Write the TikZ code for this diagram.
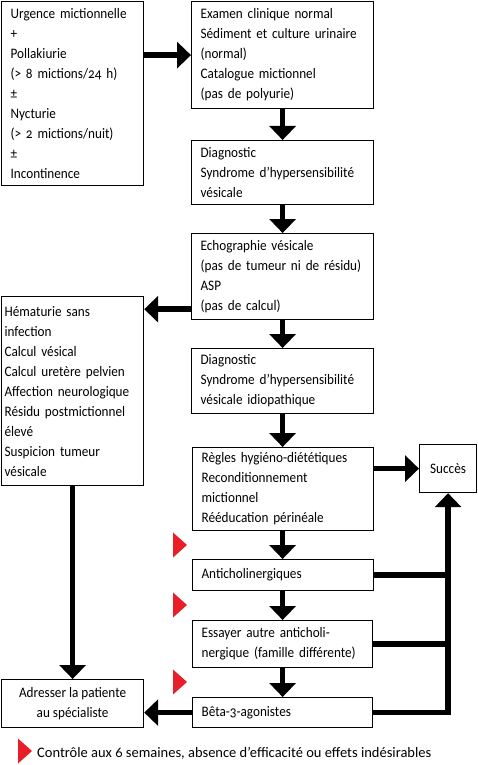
\documentclass[tikz,border=0pt]{standalone}
\usepackage{fontspec}
\setmainfont{Carlito}[Numbers=OldStyle]
\newfontfamily\boxfont{Carlito}[Numbers=OldStyle,FakeStretch=0.91]
\usetikzlibrary{arrows.meta}
\definecolor{redc}{RGB}{232,30,40}
\begin{document}
\begin{tikzpicture}[x=1pt,y=-1pt,
  every node/.style={font=\boxfont\fontsize{14.5}{20}\selectfont},
  box/.style={draw, line width=1.2pt, anchor=north west, inner xsep=9pt, inner ysep=0pt, align=left,
    execute at begin node={\hyphenpenalty=10000\exhyphenpenalty=10000}},
  arr/.style={line width=5.5pt, -{Triangle[length=14pt,width=26pt]}},
  lin/.style={line width=5.5pt},
  redtri/.pic={\fill[redc] (-7,-12.5) -- (7,0) -- (-7,12.5) -- cycle;}
]
\useasboundingbox (0,0) rectangle (477,765);
\node[box, text width=124pt, minimum height=184pt] (A) at (1,1) {Urgence mictionnelle\\+\\Pollakiurie\\(> 8 mictions/24 h)\\±\\Nycturie\\(> 2 mictions/nuit)\\±\\Incontinence};
\node[box, text width=164pt, minimum height=107pt] (B) at (191,1) {Examen clinique normal\\Sédiment et culture urinaire\\(normal)\\Catalogue mictionnel\\(pas de polyurie)};
\node[box, text width=164pt, minimum height=64pt] (C) at (191,140) {Diagnostic\\Syndrome d’hypersensibilité\\vésicale};
\node[box, text width=164pt, minimum height=86pt] (D) at (191,233) {Echographie vésicale\\(pas de tumeur ni de résidu)\\ASP\\(pas de calcul)};
\node[box, inner xsep=3pt, text width=136pt, minimum height=189pt] (E) at (1,296) {Hématurie sans\\infection\\Calcul vésical\\Calcul uretère pelvien\\Affection neurologique\\Résidu postmictionnel\\élevé\\Suspicion tumeur\\vésicale};
\node[box, text width=164pt, minimum height=65pt] (F) at (191,348) {Diagnostic\\Syndrome d’hypersensibilité\\vésicale idiopathique};
\node[box, text width=163pt, minimum height=83pt] (G) at (192,447) {Règles hygiéno-diététiques\\Reconditionnement\\mictionnel\\Rééducation périnéale};
\node[box, align=center, inner xsep=0pt, minimum width=57pt, minimum height=48pt] (S) at (419,444) {Succès};
\node[box, text width=163pt, minimum height=31pt] (H) at (192,559) {Anticholinergiques};
\node[box, text width=162pt, minimum height=47pt] (I) at (192,620) {Essayer autre anticholi-\\nergique (famille différente)};
\node[box, text width=162pt, minimum height=30pt] (J) at (192,697) {Bêta-3-agonistes};
\node[box, align=center, inner xsep=0pt, minimum width=142pt, minimum height=48pt] (K) at (1,679) {Adresser la patiente\\au spécialiste};
% connectors
\draw[arr] (A.east |- B.west) -- (B.west);
\draw[arr] (B.south) -- (C.north);
\draw[arr] (C.south) -- (D.north);
\coordinate (d1) at ([yshift=11pt]D.south west);
\draw[arr] (d1) -- (d1 -| E.east);
\draw[arr] (D.south) -- (F.north);
\draw[arr] (F.south) -- (G.north -| F.south);
\draw[arr] (G.east |- S.west) -- (S.west);
\draw[arr] (G.south -| F.south) -- (H.north -| F.south);
\draw[arr] (H.south -| F.south) -- (I.north -| F.south);
\draw[arr] (I.south -| F.south) -- (J.north -| F.south);
\draw[arr] (J.west) -- (J.west -| K.east);
\draw[arr] (E.south) -- (K.north);
\draw[lin] (H.east) -- (H.east -| S.south);
\draw[lin] (I.east) -- (I.east -| S.south);
\draw[arr] (J.east) -| (S.south);
% red markers
\pic at (180,545) {redtri};
\pic at (180,605) {redtri};
\pic at (180,682) {redtri};
\pic at (25,751) {redtri};
\node[anchor=base west, inner sep=0pt, font=\rmfamily\fontsize{14.5}{20}\selectfont] (L) at (37,757) {Contrôle aux 6 semaines, absence d’efficacité ou effets indésirables};
\end{tikzpicture}
\end{document}
